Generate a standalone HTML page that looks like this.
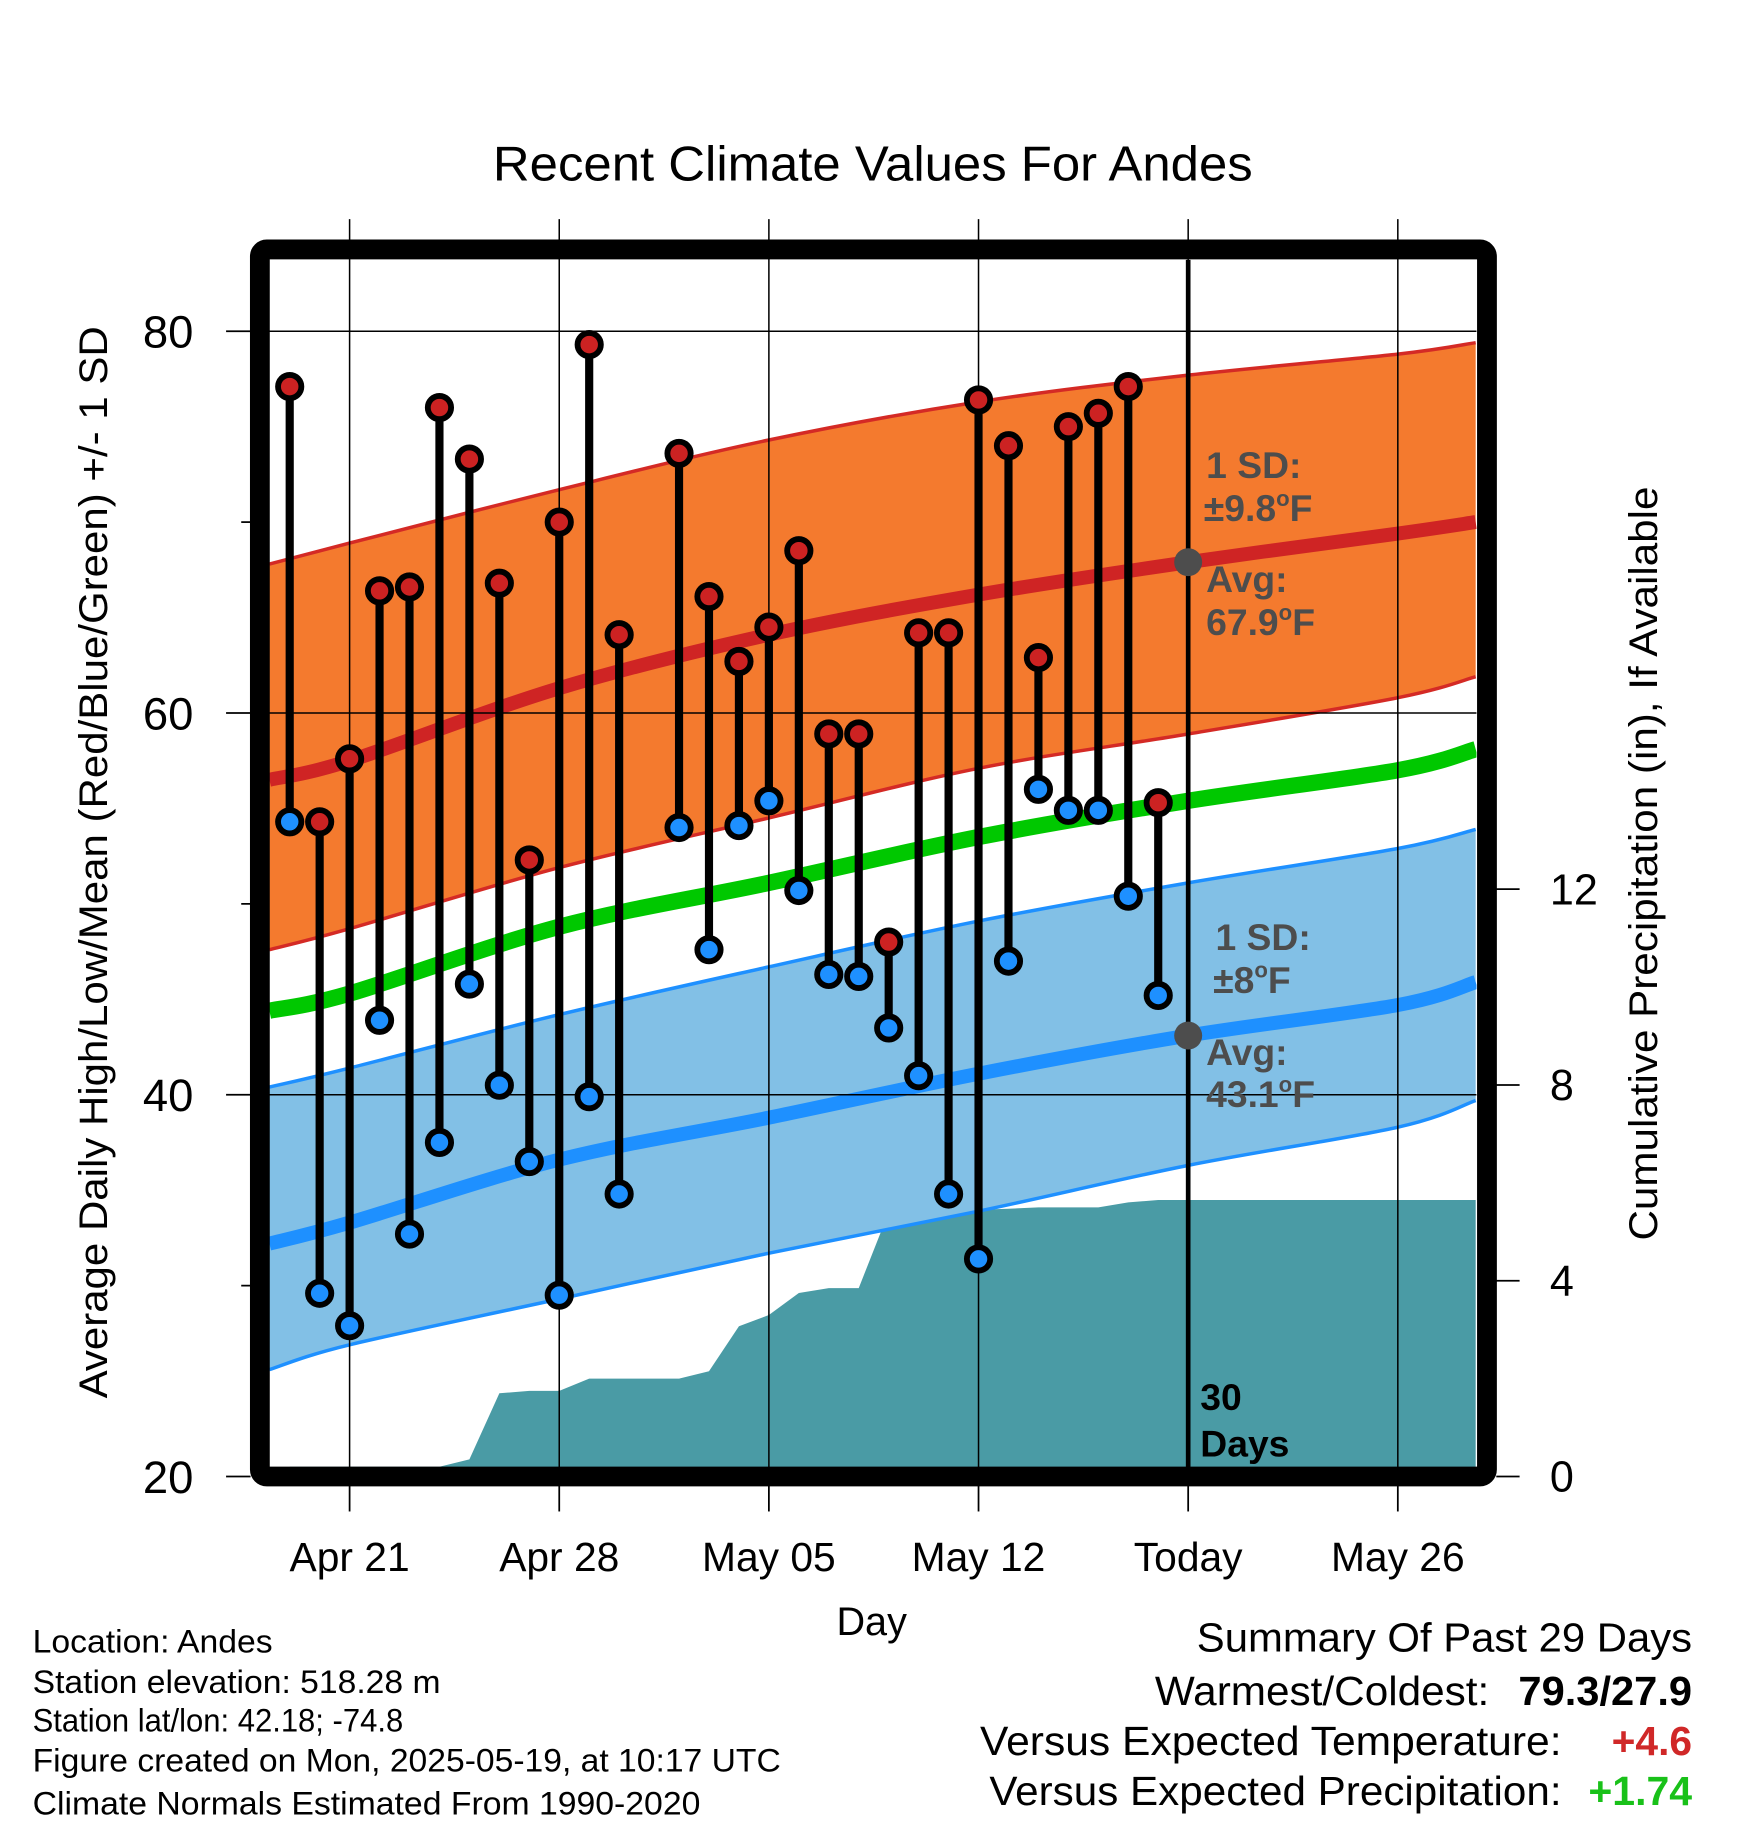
<!DOCTYPE html>
<html><head><meta charset="utf-8"><style>
html,body{margin:0;padding:0;background:#fff}
svg{display:block;font-family:"Liberation Sans",Arial,sans-serif}
</style></head><body>
<svg id="chart" width="1748" height="1828" viewBox="0 0 1500 1568.6" xmlns="http://www.w3.org/2000/svg">
<text x="423" y="155" font-size="42" textLength="652" lengthAdjust="spacingAndGlyphs">Recent Climate Values For Andes</text>
<g id="plot"></g>
<g id="axes"></g>
<text transform="translate(92,740) rotate(-90)" font-size="34" text-anchor="middle" textLength="920" lengthAdjust="spacingAndGlyphs">Average Daily High/Low/Mean (Red/Blue/Green) +/- 1 SD</text>
<text transform="translate(1422,741) rotate(-90)" font-size="34" text-anchor="middle" textLength="647" lengthAdjust="spacingAndGlyphs">Cumulative Precipitation (in), If Available</text>
<text x="748" y="1403" font-size="34" text-anchor="middle">Day</text>
<g font-size="28">
<text x="28" y="1418" textLength="206" lengthAdjust="spacingAndGlyphs">Location: Andes</text>
<text x="28" y="1453" textLength="350" lengthAdjust="spacingAndGlyphs">Station elevation: 518.28 m</text>
<text x="28" y="1486" textLength="318" lengthAdjust="spacingAndGlyphs">Station lat/lon: 42.18; -74.8</text>
<text x="28" y="1520" textLength="642" lengthAdjust="spacingAndGlyphs">Figure created on Mon, 2025-05-19, at 10:17 UTC</text>
<text x="28" y="1557" textLength="573" lengthAdjust="spacingAndGlyphs">Climate Normals Estimated From 1990-2020</text>
</g>
<g font-size="35">
<text x="1027" y="1417" textLength="425" lengthAdjust="spacingAndGlyphs">Summary Of Past 29 Days</text>
<text x="991" y="1463" textLength="287" lengthAdjust="spacingAndGlyphs">Warmest/Coldest:</text>
<text x="1303" y="1463" font-weight="bold" textLength="149" lengthAdjust="spacingAndGlyphs">79.3/27.9</text>
<text x="841" y="1506" textLength="499" lengthAdjust="spacingAndGlyphs">Versus Expected Temperature:</text>
<text x="1383" y="1506" font-weight="bold" fill="#d02828" textLength="69" lengthAdjust="spacingAndGlyphs">+4.6</text>
<text x="849" y="1549" textLength="491" lengthAdjust="spacingAndGlyphs">Versus Expected Precipitation:</text>
<text x="1363" y="1549" font-weight="bold" fill="#19c119" textLength="89" lengthAdjust="spacingAndGlyphs">+1.74</text>
</g>
</svg>
<script>
// normals sampled at day indices (0 = Apr 19)
const normDays=[-0.68,2,9,16,23,30,37,39.6];
const highUpper=[67.8,68.9,71.7,74.3,76.3,77.7,78.8,79.4];
const highAvg=[56.5,57.5,61.3,64.1,66.2,67.9,69.4,70.0];
const highLower=[47.6,48.7,51.9,54.5,57.1,58.9,60.8,61.9];
const meanAvg=[44.4,45.3,48.8,51.1,53.5,55.4,57.0,58.1];
const lowUpper=[40.4,41.4,44.2,46.7,49.1,51.1,52.9,53.9];
const lowAvg=[32.2,33.3,36.6,38.8,41.1,43.1,44.7,45.9];
const lowLower=[25.6,26.9,29.3,31.7,33.9,36.3,38.3,39.7];
const highs=[77.1,54.3,57.6,66.4,66.6,76.0,73.3,66.8,52.3,70.0,79.3,64.1,null,73.6,66.1,62.7,64.5,68.5,58.9,58.9,48.0,64.2,64.2,76.4,74.0,62.9,75.0,75.7,77.1,55.3];
const lows=[54.3,29.6,27.9,43.9,32.7,37.5,45.8,40.5,36.5,29.5,39.9,34.8,null,54.0,47.6,54.1,55.4,50.7,46.3,46.2,43.5,41.0,34.8,31.4,47.0,56.0,54.9,54.9,50.4,45.2];
const precip=[0.2,0.2,0.2,0.2,0.2,0.2,0.35,1.7,1.75,1.75,2.0,2.0,2.0,2.0,2.15,3.07,3.3,3.75,3.85,3.85,5.4,5.42,5.44,5.45,5.47,5.5,5.5,5.5,5.6,5.65];
const xTickLabels=["Apr 21","Apr 28","May 05","May 12","Today","May 26"];
const xTickDays=[2,9,16,23,30,37];
const yTicks=[20,40,60,80];
const yMinor=[30,50,70];
const y2Ticks=[0,4,8,12];
const todayIdx=30, endIdx=39.6, startIdx=-0.68;

const NS="http://www.w3.org/2000/svg";
const X=d=>248.6+25.7*d;
const Y=v=>1267-(v-20)*16.38;
const Y2=p=>1267-p*42;
const plot=document.getElementById('plot'), axes=document.getElementById('axes');
function mk(tag,attrs,parent){const e=document.createElementNS(NS,tag);for(const k in attrs)e.setAttribute(k,attrs[k]);(parent||plot).appendChild(e);return e;}
function P(arr){return arr.map((v,i)=>[X(normDays[i]),Y(v)]);}
function smooth(p,move){let d=(move?'M':'L')+p[0][0]+','+p[0][1];
 for(let i=0;i<p.length-1;i++){const p0=p[i-1]||p[i],p1=p[i],p2=p[i+1],p3=p[i+2]||p2;
  const c1=[p1[0]+(p2[0]-p0[0])/6,p1[1]+(p2[1]-p0[1])/6],c2=[p2[0]-(p3[0]-p1[0])/6,p2[1]-(p3[1]-p1[1])/6];
  d+=' C'+c1[0]+','+c1[1]+' '+c2[0]+','+c2[1]+' '+p2[0]+','+p2[1];}
 return d;}
const L=231,R=1267,T=223,B=1259;
const cp=mk('clipPath',{id:'clp'});
mk('rect',{x:L,y:T,width:R-L,height:B-T},cp);
const g=mk('g',{'clip-path':'url(#clp)'});
// precip area
let pa=[X(0)+','+Y2(0)];precip.forEach((p,i)=>pa.push(X(i)+','+Y2(p)));pa.push(X(endIdx)+','+Y2(precip[precip.length-1]));pa.push(X(endIdx)+','+Y2(0));
let e=mk('polygon',{points:pa.join(' '),fill:'#4a9ba5'},g);

// bands
e=mk('path',{d:smooth(P(highUpper),true)+' '+smooth(P(highLower).reverse(),false)+' Z',fill:'#f47a2e'},g);

e=mk('path',{d:smooth(P(lowUpper),true)+' '+smooth(P(lowLower).reverse(),false)+' Z',fill:'#82c0e6'},g);

[[highUpper,'#d42a25',3,'high-upper-line'],[highLower,'#d42a25',3,'high-lower-line'],[lowUpper,'#1e90ff',3,'low-upper-line'],[lowLower,'#1e90ff',3,'low-lower-line'],[highAvg,'#cf2424',12,'high-avg-line'],[meanAvg,'#00c800',14,'mean-avg-line'],[lowAvg,'#1e90ff',12,'low-avg-line']].forEach(s=>{
 const l=mk('path',{d:smooth(P(s[0]),true),fill:'none',stroke:s[1],'stroke-width':s[2]},g);
 
 
});
// gridlines
xTickDays.forEach(d=>{const l=mk('line',{x1:X(d),x2:X(d),y1:188,y2:B,stroke:'#000','stroke-width':1.3});});
[40,60,80].forEach(v=>{const l=mk('line',{x1:L,x2:R,y1:Y(v),y2:Y(v),stroke:'#000','stroke-width':1.3},g);});
// today line
e=mk('line',{x1:X(todayIdx),x2:X(todayIdx),y1:T,y2:B,stroke:'#000','stroke-width':4});

// stems
highs.forEach((h,i)=>{if(h==null)return;
 const s=mk('line',{x1:X(i),x2:X(i),y1:Y(h),y2:Y(lows[i]),stroke:'#000','stroke-width':7});
 
 const c1=mk('circle',{cx:X(i),cy:Y(h),r:10,fill:'#cc2222',stroke:'#000','stroke-width':5});
 
 const c2=mk('circle',{cx:X(i),cy:Y(lows[i]),r:10,fill:'#1e90ff',stroke:'#000','stroke-width':5});
 
});
// today markers
e=mk('circle',{cx:X(todayIdx),cy:Y(highAvg[5]),r:12,fill:'#4d4d4d'});
e=mk('circle',{cx:X(todayIdx),cy:Y(lowAvg[5]),r:12,fill:'#4d4d4d'});
function txt(x,y,s,attrs,name){const t=mk('text',Object.assign({x:x,y:y},attrs||{}));t.innerHTML=s;return t;}
const ga={'font-size':32,'font-weight':'bold',fill:'#4d4d4d'};
const deg='<tspan font-size="19" dy="-13">o</tspan><tspan dy="13">F</tspan>';
txt(1035,410,'1 SD:',ga,'high-sd-label');
txt(1033,447,'±9.8'+deg,ga,'high-sd-value');
txt(1035,508,'Avg:',ga,'high-avg-label');
txt(1035,545,'67.9'+deg,ga,'high-avg-value');
txt(1043,815,'1 SD:',ga,'low-sd-label');
txt(1041,852,'±8'+deg,ga,'low-sd-value');
txt(1035,914,'Avg:',ga,'low-avg-label');
txt(1035,950,'43.1'+deg,ga,'low-avg-value');
txt(1030,1210,'30',{'font-size':32,'font-weight':'bold'},'days-count');
txt(1030,1250,'Days',{'font-size':32,'font-weight':'bold'},'days-label');
// frame
e=mk('rect',{x:223,y:214,width:1053,height:1053,rx:6,fill:'none',stroke:'#000','stroke-width':17},axes);

// ticks
yTicks.forEach(v=>{const l=mk('line',{x1:194,x2:215,y1:Y(v),y2:Y(v),stroke:'#000','stroke-width':1.5},axes);
 const t=mk('text',{x:166,y:Y(v)+14,'font-size':39,'text-anchor':'end'},axes);t.textContent=v;});
yMinor.forEach(v=>{const l=mk('line',{x1:207,x2:215,y1:Y(v),y2:Y(v),stroke:'#000','stroke-width':1.5},axes);});
y2Ticks.forEach(p=>{const l=mk('line',{x1:1284,x2:1304,y1:Y2(p),y2:Y2(p),stroke:'#000','stroke-width':1.5},axes);
 const t=mk('text',{x:1330,y:Y2(p)+13,'font-size':37},axes);t.textContent=p;});
xTickDays.forEach((d,i)=>{const l=mk('line',{x1:X(d),x2:X(d),y1:1275,y2:1297,stroke:'#000','stroke-width':1.5},axes);
 const t=mk('text',{x:X(d),y:1348,'font-size':35,'text-anchor':'middle'},axes);t.textContent=xTickLabels[i];});
</script>
</body></html>
